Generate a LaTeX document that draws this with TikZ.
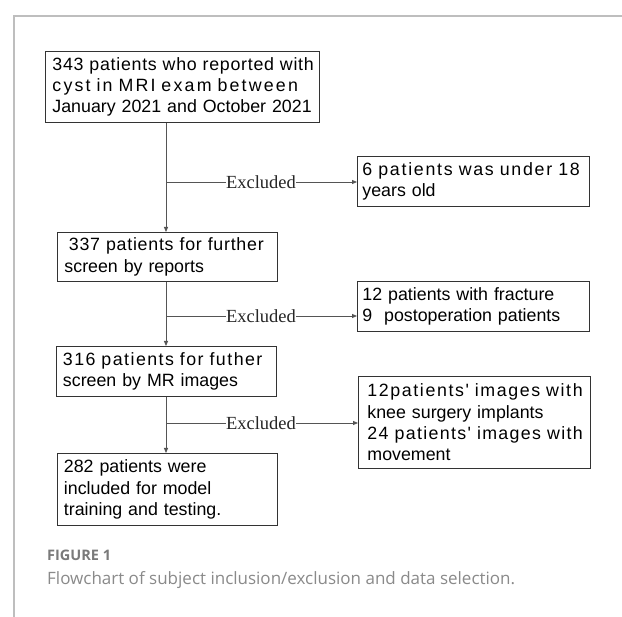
\documentclass[tikz,border=0pt]{standalone}
\usepackage{fontspec}
\usetikzlibrary{arrows.meta}
\newfontfamily\boxfont{Liberation Sans}[Ligatures=TeXOff]
\newfontfamily\exfont{Liberation Serif}
\newfontfamily\capfont{Open Sans}
\definecolor{boxline}{HTML}{333333}
\definecolor{conn}{HTML}{555555}
\definecolor{framegray}{HTML}{BEBEBE}
\definecolor{figgray}{HTML}{7A7A7A}
\definecolor{capgray}{HTML}{8A8A8A}
\newcommand{\ls}[2]{\mbox{\addfontfeatures{LetterSpace=#1}#2}}
\begin{document}
\begin{tikzpicture}[x=1pt,y=-1pt,
  box/.style={draw=boxline, line width=0.9pt, anchor=north west, inner ysep=0pt,
    align=left, font=\boxfont\fontsize{17.8}{21.3}\selectfont, text=black},
  arr/.style={draw=conn, line width=0.8pt, -{Triangle[length=5pt,width=4pt]}},
  exlabel/.style={fill=white, inner xsep=0.5pt, inner ysep=1pt, font=\exfont\fontsize{18.5}{20}\selectfont, text=black!85}
]
\useasboundingbox (0,0) rectangle (622,617);
\fill[white] (0,0) rectangle (622,617);
\draw[framegray, line width=1.5pt] (622,16) -- (14,16) -- (14,617);

% main boxes
\node[box, minimum width=274pt, minimum height=71pt, inner xsep=7pt, text width=260pt] (b1) at (45,51)
  {\ls{4.0}{343 patients who reported with}\\\ls{12.3}{cyst in MRI exam between}\\January 2021 and October 2021};
\node[box, minimum width=220pt, minimum height=49pt, inner xsep=7pt, text width=206pt] (b2) at (57,232)
  {\hspace*{4.5pt}\ls{4.2}{337 patients for further}\\screen by reports};
\node[box, minimum width=220pt, minimum height=50pt, inner xsep=6.5pt, text width=207pt] (b3) at (56,346)
  {\ls{8.2}{316 patients for futher}\\screen by MR images};
\node[box, minimum width=220pt, minimum height=72pt, inner xsep=6.5pt, text width=207pt] (b4) at (57,453)
  {282 patients were\\included for model\\training and testing.};

% exclusion boxes
\node[box, minimum width=232pt, minimum height=50pt, inner xsep=5pt, text width=222pt] (r1) at (357,156)
  {\ls{9.8}{6 patients was under 18}\\years old};
\node[box, minimum width=232pt, minimum height=50pt, inner xsep=5pt, text width=222pt] (r2) at (357,281)
  {12 patients with fracture\\9\ \ postoperation patients};
\node[box, minimum width=232pt, minimum height=92pt, inner xsep=9pt, text width=214pt] (r3) at (358,376)
  {\ls{9.0}{12patients' images with}\\knee surgery implants\\\ls{7.6}{24 patients' images with}\\movement};

% branch points on the main line
\coordinate (e1) at (166,182);
\coordinate (e2) at (166,316);
\coordinate (e3) at (166,423);

% main vertical arrows
\draw[arr] (b1.south -| e1) -- (b2.north -| e1);
\draw[arr] (b2.south -| e1) -- (b3.north -| e1);
\draw[arr] (b3.south -| e1) -- (b4.north -| e1);

% exclusion arrows
\draw[arr] (e1) -- (e1 -| r1.west);
\draw[arr] (e2) -- (e2 -| r2.west);
\draw[arr] (e3) -- (e3 -| r3.west);
\node[exlabel] (x1) at (261,182) {Excluded};
\node[exlabel] (x2) at (261,316) {Excluded};
\node[exlabel] (x3) at (261,423) {Excluded};

% caption
\node[anchor=west, inner sep=0pt, font=\capfont\bfseries\fontsize{14.5}{16}\selectfont, text=figgray] (fig) at (47,555) {FIGURE 1};
\node[anchor=west, inner sep=0pt, font=\capfont\fontsize{17}{20}\selectfont, text=capgray] (cap) at (47,580) {Flowchart of subject inclusion/exclusion and data selection.};
\end{tikzpicture}
\end{document}
